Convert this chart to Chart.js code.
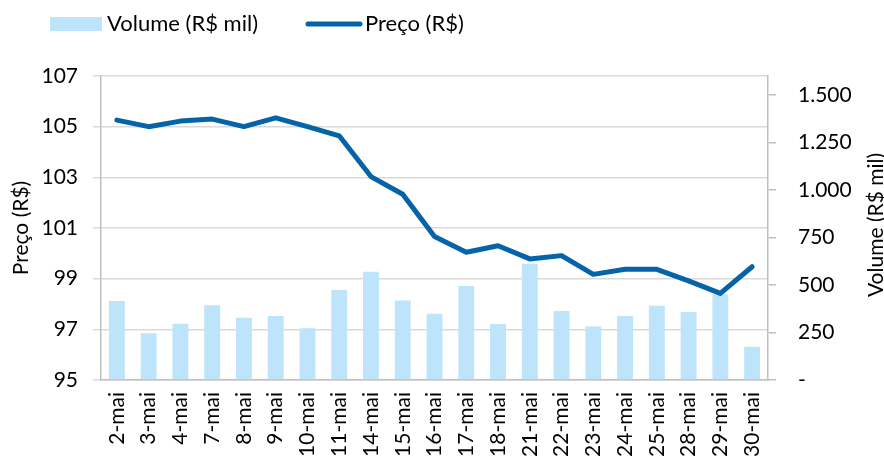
<!DOCTYPE html>
<html>
<head>
<meta charset="utf-8">
<script src="https://cdn.jsdelivr.net/npm/chart.js@4/dist/chart.umd.min.js"></script>
<style>
  html, body { margin: 0; padding: 0; background: #fff; }
  #wrap { width: 884px; height: 461px; position: relative; }
</style>
</head>
<body>
<div id="wrap"><canvas id="myChart"></canvas></div>
<script>
// dados
const dias = ['2-mai', '3-mai', '4-mai', '7-mai', '8-mai', '9-mai', '10-mai', '11-mai', '14-mai', '15-mai',
    '16-mai', '17-mai', '18-mai', '21-mai', '22-mai', '23-mai', '24-mai', '25-mai', '28-mai', '29-mai', '30-mai'];
const volume = [416, 246, 296, 393, 328, 337, 272, 474, 570, 419,
    349, 495, 295, 612, 363, 282, 337, 391, 358, 451, 175];
const preco = [105.26, 105.0, 105.22, 105.30, 105.0, 105.35, 105.0, 104.64, 103.03, 102.33,
    100.66, 100.04, 100.30, 99.78, 99.91, 99.17, 99.37, 99.37, 98.91, 98.42, 99.47];
const precoTicks = [95, 97, 99, 101, 103, 105, 107];
const volumeTicks = [0, 250, 500, 750, 1000, 1250, 1500];

const FONT = 'Lato, "Liberation Sans", sans-serif';
const corBarra = '#bde4fb';
const corLinha = '#0563a8';

function fmt(v) {
    if (v === 0) return '-';
    return String(v).replace(/\B(?=(\d{3})+(?!\d))/g, '.');
}

// legenda e titulo do eixo direito desenhados a mao
const extras = {
    id: 'extras',
    afterDraw(chart) {
        const c = chart.ctx;
        const ds = chart.data.datasets;
        c.save();
        c.font = '22px ' + FONT;
        c.fillStyle = '#000';
        c.textBaseline = 'middle';
        c.textAlign = 'left';
        // volume
        c.fillStyle = ds[1].backgroundColor;
        c.fillRect(50, 17, 52, 14);
        c.fillStyle = '#000';
        c.fillText(ds[1].label, 107, 24);
        // preco
        c.strokeStyle = ds[0].borderColor;
        c.lineWidth = 5;
        c.lineCap = 'round';
        c.beginPath();
        c.moveTo(308, 24);
        c.lineTo(360, 24);
        c.stroke();
        c.fillText(ds[0].label, 365, 24);
        // titulo eixo direito
        const a = chart.chartArea;
        c.font = '21px ' + FONT;
        c.translate(876, (a.top + a.bottom) / 2 - 3);
        c.rotate(-Math.PI / 2);
        c.textAlign = 'center';
        c.fillText('Volume (R$ mil)', 0, 0);
        c.restore();
    }
};

const ctx = document.getElementById('myChart');

new Chart(ctx, {
    type: 'bar',
    data: {
        labels: dias,
        datasets: [{
            label: 'Preço (R$)',
            type: 'line',
            data: preco,
            yAxisID: 'y',
            borderColor: corLinha,
            backgroundColor: corLinha,
            borderWidth: 5,
            borderCapStyle: 'round',
            borderJoinStyle: 'round',
            pointRadius: 0,
            tension: 0,
            order: 0
        }, {
            label: 'Volume (R$ mil)',
            data: volume,
            yAxisID: 'y1',
            backgroundColor: corBarra,
            barPercentage: 0.5,
            categoryPercentage: 1.0,
            order: 1
        }]
    },
    options: {
        responsive: true,
        maintainAspectRatio: false,
        animation: false,
        layout: { padding: { top: 76, left: 0, right: 0, bottom: 0 } },
        plugins: {
            legend: { display: false },
            tooltip: { enabled: false }
        },
        scales: {
            x: {
                grid: { display: false, drawTicks: false },
                border: { display: true, color: '#bfbfbf', width: 1.5 },
                ticks: {
                    autoSkip: false,
                    minRotation: 90,
                    maxRotation: 90,
                    padding: 12,
                    color: '#000',
                    font: { family: FONT, size: 21 }
                },
                afterFit(s) { s.height = 81; }
            },
            y: {
                position: 'left',
                min: 95,
                max: 107,
                afterBuildTicks(s) { s.ticks = precoTicks.map(v => ({ value: v })); },
                grid: { color: '#d9d9d9', lineWidth: 1.5, tickLength: 8 },
                border: { display: true, color: '#bfbfbf', width: 1.5 },
                ticks: {
                    padding: 15,
                    color: '#000',
                    font: { family: FONT, size: 21 }
                },
                title: {
                    display: true,
                    text: 'Preço (R$)',
                    color: '#000',
                    font: { family: FONT, size: 21 },
                    padding: { top: 9, bottom: 0 }
                },
                afterFit(s) { s.width = 101; }
            },
            y1: {
                position: 'right',
                min: 0,
                max: 1600,
                afterBuildTicks(s) { s.ticks = volumeTicks.map(v => ({ value: v })); },
                grid: { drawOnChartArea: false, color: '#bfbfbf', lineWidth: 1.5, tickLength: 8 },
                border: { display: true, color: '#bfbfbf', width: 1.5 },
                ticks: {
                    padding: 22,
                    color: '#000',
                    font: { family: FONT, size: 21 },
                    callback: v => fmt(v)
                },
                afterFit(s) { s.width = 116; }
            }
        }
    },
    plugins: [extras]
});
</script>
</body>
</html>
